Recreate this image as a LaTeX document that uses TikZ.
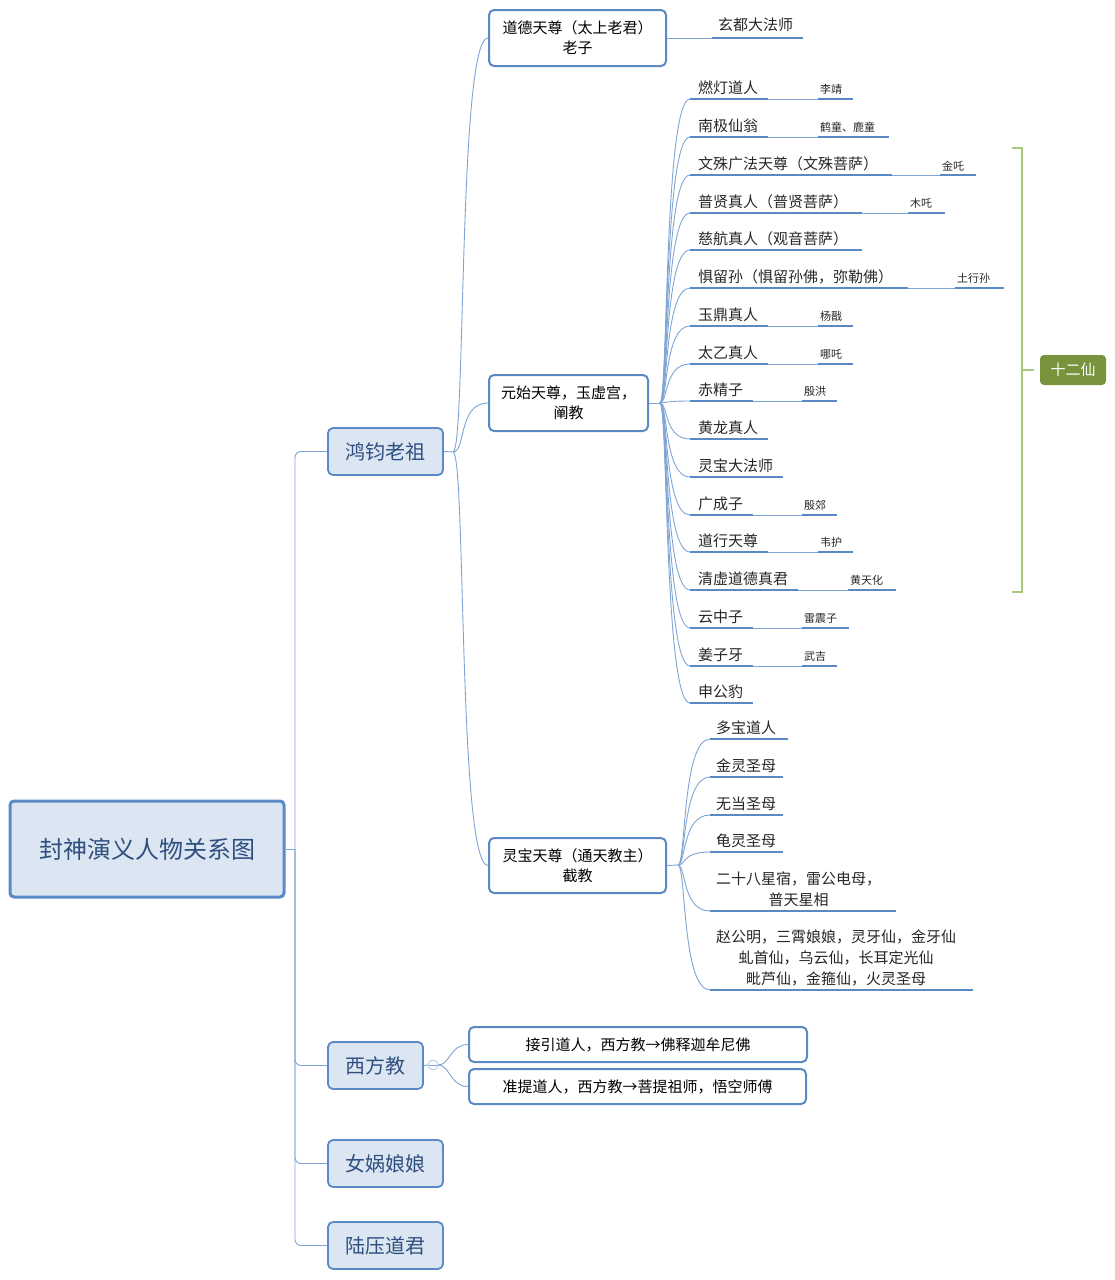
\documentclass[tikz,border=0pt]{standalone}
\usepackage{fontspec}
\setmainfont{Noto Sans CJK SC}
\begin{document}
\begin{tikzpicture}[x=1pt,y=-1pt,
  conn/.style={draw=lb,line width=0.9pt},
  uline/.style={draw=ub,line width=2.2pt},
  box/.style={draw=ub,line width=2pt,rounded corners=5pt,fill=white},
  lvl/.style={draw=ub,line width=1.8pt,rounded corners=5pt,fill=boxfill,font=\fontsize{20}{22}\selectfont,text=tx},
  leaf/.style={anchor=south west,inner sep=2pt,font=\fontsize{15}{17}\selectfont,text=black!85},
  small/.style={anchor=south west,inner sep=2pt,font=\fontsize{11}{13}\selectfont,text=black!85}]
\definecolor{lb}{HTML}{7FA5D4}\definecolor{ub}{HTML}{5A8AC6}
\definecolor{boxfill}{HTML}{DCE6F2}\definecolor{tx}{HTML}{2F4F7F}
\definecolor{gr}{HTML}{A9C77A}\definecolor{gd}{HTML}{77933C}
\useasboundingbox (0,0) rectangle (1115,1280);
% root
\node[draw=ub,line width=3pt,rounded corners=4pt,fill=boxfill,minimum width=274pt,minimum height=96pt,font=\fontsize{24}{26}\selectfont,text=tx] (root) at (147,849) {封神演义人物关系图};
\node[lvl,minimum width=115pt,minimum height=47pt] (hj) at (385.5,451.5) {鸿钧老祖};
\node[lvl,minimum width=95pt,minimum height=47pt] (xf) at (375.5,1065.5) {西方教};
\node[lvl,minimum width=115pt,minimum height=47pt] (nw) at (385.5,1163.5) {女娲娘娘};
\node[lvl,minimum width=115pt,minimum height=47pt] (ly) at (385.5,1245.5) {陆压道君};
\coordinate (t) at (295,849);
\draw[conn] (root.east) -- (t);
\foreach \n in {hj,xf,nw,ly}{\draw[conn,rounded corners=6pt] (t) |- (\n.west);}
% level 2
\node[box,minimum width=177pt,minimum height=56pt,align=center,font=\fontsize{15}{20}\selectfont] (dd) at (577.5,38) {道德天尊（太上老君）\\老子};
\node[box,minimum width=159pt,minimum height=56pt,align=center,font=\fontsize{15}{20}\selectfont] (ys) at (568.5,403) {元始天尊，玉虚宫，\\阐教};
\node[box,minimum width=177pt,minimum height=55pt,align=center,font=\fontsize{15}{20}\selectfont] (lb) at (577.5,865.5) {灵宝天尊（通天教主）\\截教};
\coordinate (hjo) at (453,452);
\draw[conn] (hj.east) -- (hjo);
\foreach \n in {dd,ys,lb}{\draw[conn] (hjo) .. controls (466,452) and (458,452 |- \n.west) .. (\n.west);}
% 玄都
\node[leaf] (xd) at (716,34) {玄都大法师};
\draw[conn] (dd.east) -- (712,38);
\draw[uline] (712,38) -- (803,38);
% 元始 children
\coordinate (yso) at (660,403);
\draw[conn] (ys.east) -- (yso);
\foreach \y/\t/\e/\s/\ss/\se [count=\i] in {
 99/燃灯道人/768/李靖/818/853,
 137/南极仙翁/768/鹤童、鹿童/818/889,
 175/文殊广法天尊（文殊菩萨）/892/金吒/940/976,
 213/普贤真人（普贤菩萨）/862/木吒/908/945,
 250/慈航真人（观音菩萨）/862//0/0,
 288/惧留孙（惧留孙佛，弥勒佛）/908/土行孙/955/1004,
 326/玉鼎真人/768/杨戬/818/853,
 364/太乙真人/768/哪吒/818/853,
 401/赤精子/753/殷洪/802/837,
 439/黄龙真人/768//0/0,
 477/灵宝大法师/783//0/0,
 515/广成子/753/殷郊/802/837,
 552/道行天尊/768/韦护/818/853,
 590/清虚道德真君/798/黄天化/848/896,
 628/云中子/753/雷震子/802/849,
 666/姜子牙/753/武吉/802/837,
 703/申公豹/753//0/0}{
  \node[leaf] (y\i) at (696,\y-2) {\t};
  \draw[conn] (yso) .. controls (668,403) and (664,\y) .. (690,\y);
  \draw[uline] (690,\y) -- (\e,\y);
  \ifnum\ss>0
    \draw[draw=lb,line width=0.8pt] (\e,\y) -- (\ss,\y);
    \draw[uline] (\ss,\y) -- (\se,\y);
    \node[small] (s\i) at (\ss,\y-2) {\s};
  \fi
}
% bracket
\draw[gr,line width=2.5pt] (1012,148) -- (1022,148) -- (1022,592) -- (1012,592);
\draw[gr,line width=2.5pt] (1022,370) -- (1034,370);
\node[fill=gd,rounded corners=4pt,minimum width=66pt,minimum height=30pt,text=white,font=\fontsize{15}{17}\selectfont\itshape] (sx) at (1073,370) {十二仙};
% 灵宝 children
\coordinate (lbo) at (678,865);
\draw[conn] (lb.east) -- (lbo);
\foreach \y/\e/\t [count=\i] in {739/788/多宝道人,777/783/金灵圣母,815/783/无当圣母,852/783/龟灵圣母}{
  \node[leaf] (l\i) at (714,\y-2) {\t};
  \draw[conn] (lbo) .. controls (686,865) and (682,\y) .. (710,\y);
  \draw[uline] (710,\y) -- (\e,\y);
}
\node[leaf,align=center,font=\fontsize{15}{21}\selectfont] (l5) at (714,909) {二十八星宿，雷公电母，\\普天星相};
\draw[conn] (lbo) .. controls (686,865) and (682,911) .. (710,911);
\draw[uline] (710,911) -- (896,911);
\node[leaf,align=center,font=\fontsize{15}{21}\selectfont] (l6) at (714,988) {赵公明，三霄娘娘，灵牙仙，金牙仙\\虬首仙，乌云仙，长耳定光仙\\毗芦仙，金箍仙，火灵圣母};
\draw[conn] (lbo) .. controls (686,865) and (682,990) .. (710,990);
\draw[uline] (710,990) -- (973,990);
% 西方教
\node[draw=lb,circle,inner sep=0pt,minimum size=10pt,fill=white] (xc) at (433,1065) {};
\draw[conn] (xf.east) -- (xc.west);
\draw[draw=lb,line width=0.7pt] (429,1065) -- (437,1065);
\node[box,minimum width=338pt,minimum height=35pt,font=\fontsize{15}{17}\selectfont] (b1) at (638,1044.5) {接引道人，西方教→佛释迦牟尼佛};
\node[box,minimum width=337pt,minimum height=35pt,font=\fontsize{15}{17}\selectfont] (b2) at (637.5,1086.5) {准提道人，西方教→菩提祖师，悟空师傅};
\draw[conn] (xc.east) .. controls (450,1065) and (450,1044.5) .. (b1.west);
\draw[conn] (xc.east) .. controls (450,1065) and (450,1086.5) .. (b2.west);
\end{tikzpicture}
\end{document}
